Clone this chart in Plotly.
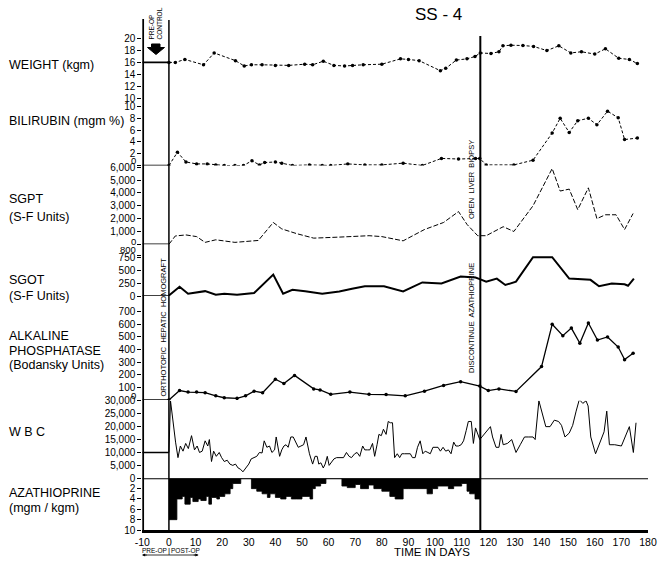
import plotly.graph_objects as go

W, H = 663, 562
FONT = "Liberation Sans"

# ---------------- data ----------------
weight_day = [0, 2.4, 6, 13, 17, 25, 28.3, 31, 35, 40, 45, 51, 54, 58, 62, 66, 69, 73, 80, 87, 90, 94,
              102, 104, 108, 112, 115, 117, 121, 124, 125.5, 128.5, 133, 137, 142, 146.5, 151, 155, 160,
              164, 169, 173, 176]
weight_kg = [16, 16, 16.5, 15.6, 17.6, 16.3, 15.4, 15.6, 15.6, 15.5, 15.5, 15.7, 15.6, 16.2, 15.5, 15.4,
             15.5, 15.6, 15.7, 16.6, 16.5, 16.3, 14.6, 15.0, 16.4, 16.6, 17.0, 17.6, 17.5, 17.8, 18.8,
             18.9, 18.85, 18.7, 18.0, 18.8, 17.6, 17.8, 17.4, 18.3, 16.7, 16.5, 15.8]

bili_day = [0, 3.2, 6.4, 10.4, 14.4, 17.6, 20.8, 24.8, 28, 31.2, 34, 36, 40, 42.4, 46.4, 52.8, 57.6,
            60.8, 67.2, 73.6, 80, 88, 95.2, 102.4, 108.8, 115.2, 116.8, 119.2, 129.6, 136.8, 144, 147,
            150.4, 153.6, 157.6, 160.8, 164.8, 168.8, 171.2, 176]
bili_val = [0, 2.25, 0.6, 0.27, 0.27, 0.1, 0, 0, 0, 0.8, 0.1, 0.5, 0.6, 0.4, 0, 0.1, 0, 0, 0.27, 0.1,
            0.1, 0.4, 0, 1.2, 1.1, 1.2, 1.2, 0.1, 0.1, 0.9, 5.5, 8.0, 5.6, 7.6, 8.0, 6.9, 9.2, 8.1, 4.4,
            4.65]

sgpt_day = [0, 2.4, 6.4, 10.4, 13.6, 17.6, 24.8, 33.6, 39.2, 42.4, 48, 54.4, 64, 75.2, 80, 88, 96,
            103.2, 108.8, 112, 116, 119.2, 125.6, 129.6, 136.8, 144, 147, 150.4, 153.6, 157.6, 160.8,
            164, 168, 171.2, 174.4]
sgpt_val = [0, 650, 730, 600, 150, 350, 150, 300, 1700, 1200, 830, 480, 560, 670, 600, 270, 1150, 1700,
            2550, 1550, 670, 670, 1370, 1000, 3000, 5900, 4150, 4300, 2700, 4400, 2000, 2300, 2300, 1150,
            2400]

sgot_day = [0, 4, 7.2, 13.6, 17.6, 20.8, 25.6, 32, 39.2, 42.9, 46.4, 51.2, 57.6, 64, 68.8, 73.6, 80.8,
            88, 95.2, 102.4, 109.6, 115.2, 116.8, 119.2, 123.2, 126.4, 130.4, 136.8, 144, 150.4, 158.4,
            161.6, 166.4, 171.2, 172.5, 174.7]
sgot_val = [10, 180, 45, 95, 25, 45, 25, 60, 420, 45, 120, 95, 45, 90, 140, 190, 190, 90, 265, 245, 380,
            360, 330, 280, 340, 215, 280, 760, 760, 340, 316, 190, 245, 230, 200, 340]

alk_day = [0, 4, 7.2, 10.4, 13.6, 17.6, 20.8, 25.6, 28.8, 32, 35.2, 40, 43.2, 47.2, 54.4, 56.8, 60.8,
           68, 75.2, 81.6, 88.8, 96, 103.2, 109.6, 116.8, 120, 124, 130.4, 140, 144, 148, 151.2, 154.4,
           157.6, 161, 164.8, 168.8, 171.2, 174.4]
alk_val = [0, 75, 63, 63, 58, 33, 18, 13, 33, 70, 58, 165, 130, 195, 88, 80, 45, 63, 45, 43, 33, 70, 115,
           145, 110, 75, 88, 68, 265, 600, 510, 570, 450, 610, 475, 500, 420, 320, 370]

wbc_day = [0, 0.6, 2.5, 3.4, 4.3, 5.3, 6.3, 7.3, 8.5, 9.6, 10.6, 11.5, 12.5, 13.6, 14.6, 15.2, 16, 16.8,
           17.8, 18.9, 19.8, 20.8, 21.9, 22.9, 24, 25, 26, 26.9, 27.8, 29, 30, 30.9, 32, 33, 34, 35,
           35.8, 36.8, 37.8, 38.7, 39.7, 40.3, 41.6, 42.4, 43.2, 44, 44.8, 45.8, 46.7, 47.7, 48.6, 49.6,
           50.6, 51.5, 52.8, 54, 54.9, 55.7, 56.3, 57.1, 58, 58.7, 59.5, 60.2, 61, 62, 63, 64.3, 65.6,
           66.7, 67.7, 68.6, 69.8, 70.7, 71.7, 72.8, 73.6, 74.6, 75.5, 76.5, 77.3, 78.2, 78.9, 79.8,
           80.6, 81.6, 82.4, 83.2, 84, 84.8, 85.8, 86.7, 87.5, 88.5, 89.6, 90.7, 91.5, 92.5, 93.4, 94.4,
           95.4, 96.3, 97.3, 98.2, 99.2, 100.2, 101.1, 102, 103, 104, 105, 106, 107, 107.8, 108.8,
           109.8, 110.7, 111.7, 112.5, 113.6, 114.4, 115.2, 116, 116.8, 117.6, 119.7, 120.8, 121.6,
           122.9, 124, 124.8, 125.6, 127.2, 128.8, 130.4, 132, 133.6, 135.2, 136.8, 137.6, 139, 141.6,
           143.2, 144.8, 146.4, 147.5, 148.8, 150.4, 151.7, 153, 154.2, 155.5, 156.7, 157.5, 158.5,
           160.3, 162, 163.5, 164.5, 165.5, 167.5, 170, 173, 174.5, 175.5]
wbc_val = [10000, 30000, 14000, 8000, 12500, 10500, 13500, 11500, 16500, 11000, 12500, 10000, 10500,
           14500, 12500, 15000, 6500, 10500, 8500, 10000, 8000, 6500, 7000, 5500, 5000, 5500, 4000, 3500,
           2500, 4000, 5500, 7500, 8000, 8500, 10000, 9800, 14500, 12000, 12500, 10000, 11000, 16000,
           8500, 11000, 12500, 13000, 12000, 16000, 16000, 14000, 12000, 12500, 13000, 16000, 9500, 5500,
           8500, 8500, 5500, 6000, 4000, 5500, 8500, 5000, 6000, 7500, 8000, 8000, 8000, 10000, 8500,
           8000, 9500, 10000, 8500, 12500, 11000, 11000, 11000, 13500, 8500, 13000, 17000, 16500, 19000,
           17000, 22000, 21500, 21500, 8000, 9500, 8000, 9500, 9500, 9500, 9500, 8000, 8000, 12000,
           14500, 9500, 10500, 10000, 9500, 12000, 12000, 12000, 10500, 12000, 10500, 11000, 9500,
           14000, 12500, 12500, 13000, 14500, 18500, 22000, 22000, 13500, 19500, 17000, 15000, 16000,
           18500, 20000, 16000, 12000, 12000, 17000, 13000, 13500, 15000, 10000, 13000, 16000, 16000,
           16000, 15000, 30000, 20000, 20000, 22500, 22000, 20500, 16000, 17500, 20500, 26000, 30500,
           29000, 30000, 28000, 16000, 9500, 14000, 18000, 26000, 13000, 13000, 12500, 20000, 10000,
           21500]

aza_day = [0, 3, 5, 6, 8, 9, 11, 12, 14, 15, 16, 18, 19, 21, 23, 24, 27, 31, 33, 35, 37, 38, 40, 42, 44,
           46, 48, 50, 53, 54, 55, 57, 59, 65, 67, 70, 72, 75, 77, 80, 83, 85, 88, 90, 97, 99, 101, 105,
           107, 110, 112, 113, 115, 117]
aza_dose = [8, 4, 3.5, 5, 3.7, 4.5, 4, 4.3, 3.5, 5, 3.7, 4, 3.5, 3, 2, 1, 0, 2, 2.5, 3, 3.7, 3, 3.7, 4,
            3.5, 4, 4, 3.5, 4, 2, 1.5, 1, 0, 1.5, 1.8, 1.2, 2, 1.3, 2, 2.5, 3.5, 4, 2, 2, 3, 2, 1.5, 2,
            1.5, 1, 2.5, 3, 4, 0]

# pre-operative control values (drawn from day -10 to day 0)
preop_axis = ["y", "y2", "y3", "y4", "y5", "y6"]
preop_value = [16, 0, 0, 0, 0, 10000]

# tick labels
x_ticks = list(range(-10, 181, 10))
weight_ticks = [10, 12, 14, 16, 18, 20]
bili_ticks = [0, 2, 4, 6, 8, 10]
sgpt_ticks = [0, 1000, 2000, 3000, 4000, 5000, 6000]
sgpt_text = ["", "1,000", "2,000", "3,000", "4,000", "5,000", "6,000"]
sgot_ticks = [0, 250, 500, 750, 800]
sgot_text = ["0", "250", "500", "750", ""]
alk_ticks = [0, 100, 200, 300, 400, 500, 600, 700]
alk_text = ["", "100", "200", "300", "400", "500", "600", "700"]
wbc_ticks = [5000, 10000, 15000, 20000, 25000, 30000]
wbc_text = ["5,000", "10,000", "15,000", "20,000", "25,000", "30,000"]
aza_ticks = [0, 2, 4, 6, 8, 10]

# event days
DAY_OP = 0
DAY_BIOPSY = 117


def py(p):
    return 1 - p / H


def px(p):
    return p / W


fig = go.Figure()

dots = dict(size=3.5, color="black")
fig.add_trace(go.Scatter(x=weight_day, y=weight_kg, yaxis="y", mode="lines+markers",
                         line=dict(color="black", width=1, dash="3px,2px"), marker=dots))
fig.add_trace(go.Scatter(x=bili_day, y=bili_val, yaxis="y2", mode="lines+markers",
                         line=dict(color="black", width=1, dash="3px,2px"), marker=dots))
fig.add_trace(go.Scatter(x=sgpt_day, y=sgpt_val, yaxis="y3", mode="lines",
                         line=dict(color="black", width=1, dash="5px,2px")))
fig.add_trace(go.Scatter(x=sgot_day, y=sgot_val, yaxis="y4", mode="lines",
                         line=dict(color="black", width=2)))
fig.add_trace(go.Scatter(x=alk_day, y=alk_val, yaxis="y5", mode="lines+markers",
                         line=dict(color="black", width=1.3), marker=dots))
fig.add_trace(go.Scatter(x=wbc_day, y=wbc_val, yaxis="y6", mode="lines",
                         line=dict(color="black", width=1)))
fig.add_trace(go.Scatter(x=aza_day, y=aza_dose, yaxis="y7", mode="lines", line_shape="hv",
                         fill="tozeroy", fillcolor="black", line=dict(color="black", width=0.8)))
for ax, v in zip(preop_axis, preop_value):
    fig.add_trace(go.Scatter(x=[-10, DAY_OP], y=[v, v], yaxis=ax, mode="lines",
                             line=dict(color="black", width=1.6)))

ybase = dict(anchor="x", side="left", ticks="outside", ticklen=4, tickwidth=1.3, tickcolor="black",
             showgrid=False, zeroline=False, showline=False, automargin=False,
             tickfont=dict(size=10, color="black", family=FONT), fixedrange=True)


def yax(lo_px, hi_px, rng, tv, tt=None):
    d = dict(ybase)
    d.update(domain=[py(lo_px), py(hi_px)], range=rng, tickvals=tv,
             ticktext=tt if tt is not None else [str(t) for t in tv])
    return d


fig.update_layout(
    template="none",
    width=W, height=H, autosize=False,
    margin=dict(l=0, r=0, t=0, b=0, pad=0),
    paper_bgcolor="white", plot_bgcolor="white",
    showlegend=False,
    font=dict(family=FONT, color="black"),
    xaxis=dict(domain=[px(142.3), px(648)], range=[-10, 180], anchor="y7", automargin=False,
               tickvals=x_ticks, ticktext=[str(t) for t in x_ticks],
               ticks="", showline=True, linewidth=3, linecolor="black",
               showgrid=False, zeroline=False, tickfont=dict(size=10.5, family=FONT)),
    yaxis=yax(98, 38.7, [10, 20], weight_ticks),
    yaxis2=yax(165.5, 106.5, [0, 10], bili_ticks, [""] + [str(t) for t in bili_ticks[1:]]),
    yaxis3=yax(244.3, 167.3, [0, 6000], sgpt_ticks, sgpt_text),
    yaxis4=yax(296, 255.1, [0, 800], sgot_ticks, sgot_text),
    yaxis5=yax(400, 311.7, [0, 700], alk_ticks, alk_text),
    yaxis6=yax(478.3, 400.8, [0, 30000], wbc_ticks, wbc_text),
    yaxis7=yax(530, 478.3, [10, 0], aza_ticks),
)

shapes = [
    dict(type="line", xref="x", yref="paper", x0=-10, x1=-10, y0=py(531), y1=py(19),
         line=dict(color="black", width=3.5)),
    dict(type="line", xref="x", yref="paper", x0=DAY_OP, x1=DAY_OP, y0=py(530), y1=py(20),
         line=dict(color="black", width=1.5)),
    dict(type="line", xref="x", yref="paper", x0=DAY_BIOPSY, x1=DAY_BIOPSY, y0=py(530), y1=py(36),
         line=dict(color="black", width=2)),
    dict(type="line", xref="x", yref="y7", x0=-10, x1=180, y0=0, y1=0,
         line=dict(color="black", width=2)),
    dict(type="line", xref="x", yref="paper", x0=-10, x1=11, y0=py(555), y1=py(555),
         line=dict(color="black", width=0.8)),
]
# big down arrow under PRE-OP CONTROL
arrow_pts = [(151.5, 44), (160, 44), (160, 47.5), (164.5, 47.5), (156, 54.5), (147.5, 47.5), (151.5, 47.5)]
path = "M " + " L ".join(f"{px(a):.5f},{py(b):.5f}" for a, b in arrow_pts) + " Z"
shapes.append(dict(type="path", xref="paper", yref="paper", path=path, fillcolor="black",
                   line=dict(color="black", width=1)))
fig.update_layout(shapes=shapes)

ann = []


def text(x, y, s, size=12.5, xanchor="left", yanchor="middle", angle=0, align="left"):
    ann.append(dict(x=px(x), y=py(y), xref="paper", yref="paper", text=s, showarrow=False,
                    xanchor=xanchor, yanchor=yanchor, textangle=angle, align=align,
                    font=dict(size=size, family=FONT, color="black")))


text(7, 65, "WEIGHT (kgm)")
text(7, 121, "BILIRUBIN (mgm %)")
text(7, 199, "SGPT")
text(7, 217, "(S-F Units)")
text(7, 280, "SGOT")
text(7, 296, "(S-F Units)")
text(7, 336, "ALKALINE")
text(7, 350.7, "PHOSPHATASE")
text(7, 365, "(Bodansky Units)")
text(7, 432, "W B C")
text(7, 493, "AZATHIOPRINE")
text(7, 508, "(mgm / kgm)")
text(438, 15, "SS - 4", size=17, xanchor="center")
text(432, 552, "TIME IN DAYS", size=11.5, xanchor="center")
text(155, 23.5, "PRE-OP<br>CONTROL", size=6.5, xanchor="center", angle=-90, align="left")
text(162.5, 327, "ORTHOTOPIC  HEPATIC  HOMOGRAFT", size=7.5, xanchor="center", angle=-90)
text(471, 180, "OPEN  LIVER  BIOPSY", size=7.5, xanchor="center", angle=-90)
text(471, 318, "DISCONTINUE  AZATHIOPRINE", size=7.5, xanchor="center", angle=-90)
text(154, 550, "PRE-OP", size=6.5, xanchor="center")
text(185, 550, "POST-OP", size=6.5, xanchor="center")
text(169, 550, "|", size=8, xanchor="center")

# squeezed tick labels, shifted up for legibility
for axref, val, s, shift in [("y2", 0, "0", 5), ("y3", 0, "0", 3), ("y4", 800, "800", 6),
                             ("y5", 0, "0", 5)]:
    ann.append(dict(x=px(137.5), y=val, xref="paper", yref=axref, text=s, showarrow=False,
                    xanchor="right", yanchor="middle", yshift=shift,
                    font=dict(size=9.5, family=FONT, color="black")))

# pre-op / post-op arrow heads
for tip, dx in ((-10, 6), (11, -6)):
    ann.append(dict(x=tip, y=py(555), xref="x", yref="paper", ax=dx, ay=0,
                    text="", showarrow=True, arrowhead=2, arrowsize=0.7,
                    arrowwidth=0.8, arrowcolor="black"))

fig.update_layout(annotations=ann)

fig.write_html("out.html", config={"displayModeBar": False},
               post_script="document.body.style.margin='0';document.body.style.overflow='hidden';")
